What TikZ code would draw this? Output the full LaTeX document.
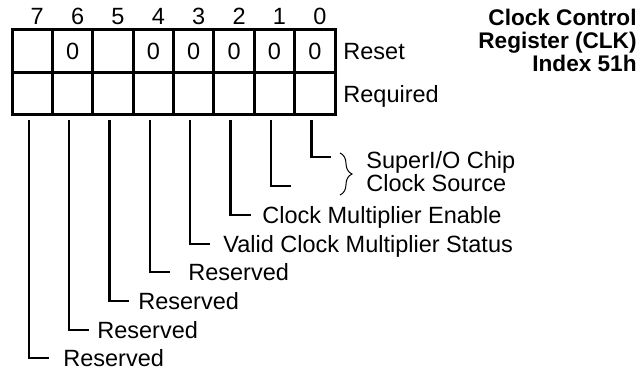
\documentclass[tikz,border=0pt]{standalone}
\usepackage{fontspec}
\setmainfont{Liberation Sans}
\usetikzlibrary{calc, decorations.pathreplacing}

\begin{document}
\begin{tikzpicture}[x=0.5pt, y=-0.5pt,
		txt/.style={font=\fontsize{11.75}{12}\selectfont, inner sep=0pt},
		ttl/.style={font=\fontsize{11.3}{11.5}\selectfont\bfseries, inner sep=0pt, align=right},
		cell/.style={line width=1.5pt},
		lead/.style={line width=1.2pt},
		curly/.style={line width=0.5pt, decorate, decoration={brace, amplitude=6pt}}]
			\useasboundingbox (0,0) rectangle (644,374);
			
			\coordinate (A) at (12,30);
			\coordinate (B) at (335,30);
			\coordinate (C) at (335,115);
			\coordinate (D) at (12,115);
			\coordinate (E) at (12,73);
			\coordinate (F) at (335,73);
			
			\draw[cell] (A) -- (B) -- (C) -- (D) -- cycle;
			\draw[cell] (E) -- (F);
			\foreach \i in {1,...,7}{
				\draw[cell] (12+40.375*\i,30) -- (12+40.375*\i,115);
			}
			
			\foreach \b/\r in {
				7/{},
				6/0,
				5/{},
				4/0,
				3/0,
				2/0,
				1/0,
				0/0
			}{
				\pgfmathsetmacro{\cx}{32.19+40.375*(7-\b)}
				\node[txt, anchor=base] (bit\b) at (\cx+5,25) {\b};
				\node[txt, anchor=base] (rst\b) at (\cx,60) {\r};
			}
			\node[txt, anchor=base west] (reset) at (343,60) {Reset};
			\node[txt, anchor=base west] (req) at (343,103) {Required};
			
			\foreach \b/\y in {
				0/157,
				1/186,
				2/215,
				3/244,
				4/272,
				5/301,
				6/330,
				7/358
			}{
				\pgfmathsetmacro{\lx}{28.7+40.375*(7-\b)}
				\coordinate (top\b) at (\lx,120);
				\coordinate (end\b) at (\lx+20,\y);
				\draw[lead] (top\b) |- (end\b);
			}
			
			\foreach \b/\y/\tx/\label in {
				2/215/262/Clock Multiplier Enable,
				3/244/223/Valid Clock Multiplier Status,
				4/272/188/Reserved,
				5/301/138/Reserved,
				6/330/97/Reserved,
				7/358/63/Reserved
			}{
				\node[txt, anchor=base west] (lab\b) at (\tx,\y+8.5) {\label};
			}
			
			\node[txt, anchor=base west, align=left] (src) at (366,192) {SuperI/O Chip\\Clock Source};
			\coordinate (bt) at (340,153);
			\coordinate (bb) at (340,195);
			\draw[curly] (bt) -- (bb);
			
			\node[ttl, anchor=north east] (title) at (637,9) {Clock Control\\Register (CLK)\\Index 51h};
		\end{tikzpicture}
\end{document}
